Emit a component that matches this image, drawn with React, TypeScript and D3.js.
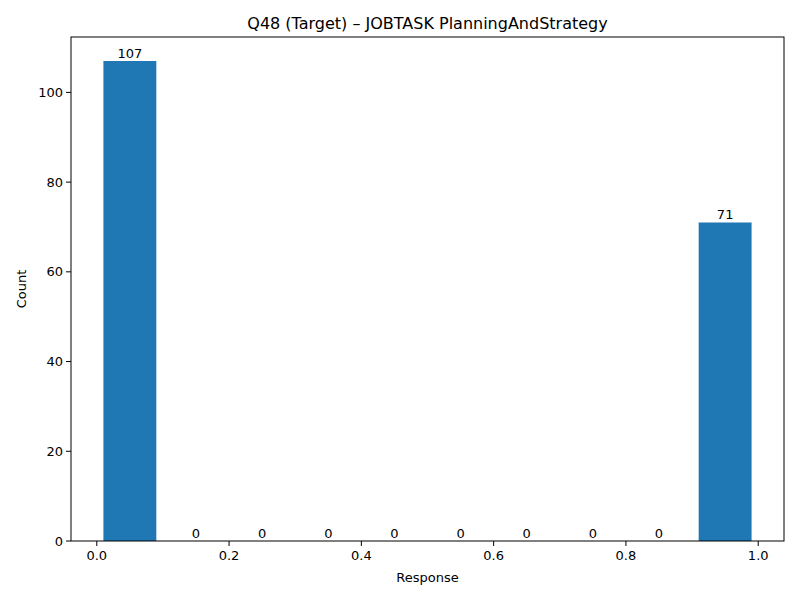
import React from "react";
import * as d3 from "d3";

const binStarts = [0, 0.1, 0.2, 0.3, 0.4, 0.5, 0.6, 0.7, 0.8, 0.9];
const counts = [107, 0, 0, 0, 0, 0, 0, 0, 0, 71];
const xTicks = [0.0, 0.2, 0.4, 0.6, 0.8, 1.0];
const yTicks = [0, 20, 40, 60, 80, 100];

export default function App() {
  const W = 800, H = 600;
  const m = { l: 71, r: 784, t: 37, b: 541 };
  const x = d3.scaleLinear().domain([-0.039, 1.039]).range([m.l, m.r]);
  const y = d3.scaleLinear().domain([0, 112.35]).range([m.b, m.t]);
  const font = "DejaVu Sans, sans-serif";
  return (
    <svg width={W} height={H} style={{ position: "absolute", left: 0, top: 0 }} fontFamily={font}>
      <rect width={W} height={H} fill="#fff" />
      {binStarts.map((s, i) => {
        const x0 = x(s + 0.01), x1 = x(s + 0.09);
        return (
          <g key={i}>
            <rect x={x0} y={y(counts[i])} width={x1 - x0} height={m.b - y(counts[i])} fill="#1f77b4" />
            <text x={(x0 + x1) / 2} y={y(counts[i]) - 3} textAnchor="middle" fontSize={13}>{counts[i]}</text>
          </g>
        );
      })}
      <rect x={m.l} y={m.t} width={m.r - m.l} height={m.b - m.t} fill="none" stroke="#000" strokeWidth={1} />
      {xTicks.map((t) => (
        <g key={t}>
          <line x1={x(t)} x2={x(t)} y1={m.b} y2={m.b + 5} stroke="#000" />
          <text x={x(t)} y={m.b + 19} textAnchor="middle" fontSize={13}>{t.toFixed(1)}</text>
        </g>
      ))}
      {yTicks.map((t) => (
        <g key={t}>
          <line x1={m.l - 5} x2={m.l} y1={y(t)} y2={y(t)} stroke="#000" />
          <text x={m.l - 8} y={y(t) + 4.5} textAnchor="end" fontSize={13}>{t}</text>
        </g>
      ))}
      <text x={(m.l + m.r) / 2} y={582} textAnchor="middle" fontSize={13}>Response</text>
      <text transform={`translate(26,${(m.t + m.b) / 2}) rotate(-90)`} textAnchor="middle" fontSize={13}>Count</text>
      <text x={(m.l + m.r) / 2} y={29} textAnchor="middle" fontSize={16}>Q48 (Target) – JOBTASK PlanningAndStrategy</text>
    </svg>
  );
}
